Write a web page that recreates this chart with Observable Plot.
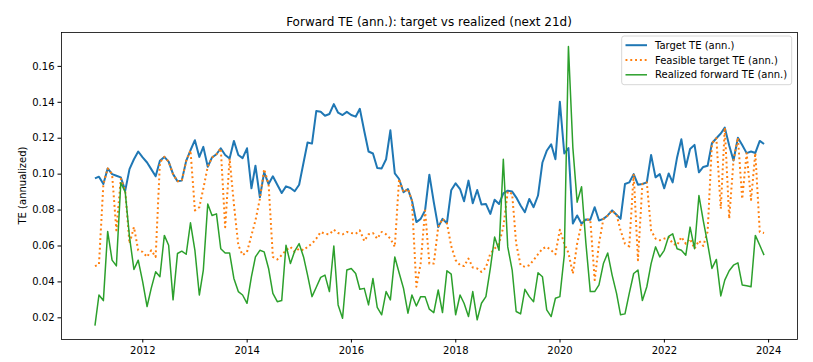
<!DOCTYPE html>
<html><head><meta charset="utf-8">
<script src="https://cdn.jsdelivr.net/npm/d3@7"></script>
<script src="https://cdn.jsdelivr.net/npm/@observablehq/plot@0.6"></script>
<style>body{margin:0;background:#fff;} svg{display:block}</style>
</head><body><div id="chart"></div>
<script>
// Monthly observations (month-end), first month:
const firstMonth = "2011-01";

const targetTE = [
0.0976,0.0986,0.0945,0.1032,0.1000,0.0991,0.0982,0.0908,0.1028,0.1083,
0.1126,0.1093,0.1065,0.1028,0.0988,0.1074,0.1096,0.1070,0.1000,0.0960,
0.0964,0.1074,0.1133,0.1189,0.1096,0.1152,0.1041,0.1093,0.1111,0.1144,
0.1107,0.1087,0.1185,0.1107,0.1089,0.1144,0.0921,0.1047,0.0871,0.1010,
0.0945,0.0988,0.0941,0.0895,0.0932,0.0923,0.0905,0.0941,0.1065,0.1176,
0.1170,0.1351,0.1347,0.1325,0.1335,0.1390,0.1342,0.1329,0.1347,0.1329,
0.1320,0.1364,0.1240,0.1126,0.1115,0.1034,0.1032,0.1083,0.1244,0.1004,
0.0973,0.0899,0.0917,0.0853,0.0733,0.0751,0.0798,0.0997,0.0844,0.0705,
0.0751,0.0727,0.0910,0.0949,0.0917,0.0849,0.0964,0.0838,0.0912,0.0831,
0.0834,0.0779,0.0857,0.0834,0.0893,0.0908,0.0903,0.0871,0.0825,0.0788,
0.0862,0.0816,0.0881,0.1065,0.1130,0.1166,0.1083,0.1403,0.1115,0.1145,
0.0725,0.0770,0.0724,0.0748,0.0746,0.0816,0.0742,0.0751,0.0770,0.0798,
0.0774,0.0751,0.0945,0.0954,0.1000,0.0941,0.0945,0.0954,0.1107,0.0982,
0.1000,0.0921,0.1004,0.0954,0.1093,0.1194,0.1040,0.1140,0.1163,0.1010,
0.1040,0.1047,0.1172,0.1200,0.1226,0.1259,0.1160,0.1076,0.1203,0.1162,
0.1117,0.1126,0.1118,0.1185,0.1168
];

const feasibleTE = [
0.0488,0.0497,0.0945,0.1032,0.1000,0.0687,0.0975,0.0908,0.0613,0.0705,
0.0576,0.0567,0.0539,0.0576,0.0539,0.1065,0.1096,0.1070,0.1000,0.0960,
0.0964,0.1074,0.1133,0.0798,0.0816,0.0920,0.1041,0.1093,0.1111,0.1144,
0.0705,0.1087,0.0834,0.0604,0.0549,0.0567,0.0659,0.0742,0.0862,0.1028,
0.0945,0.0539,0.0525,0.0549,0.0576,0.0595,0.0567,0.0585,0.0576,0.0595,
0.0613,0.0641,0.0678,0.0668,0.0665,0.0691,0.0672,0.0665,0.0678,0.0672,
0.0668,0.0687,0.0628,0.0665,0.0672,0.0641,0.0678,0.0665,0.0641,0.0595,
0.0973,0.0899,0.0917,0.0853,0.0373,0.0502,0.0798,0.0502,0.0502,0.0705,
0.0751,0.0727,0.0600,0.0521,0.0493,0.0488,0.0530,0.0480,0.0475,0.0456,
0.0480,0.0558,0.0585,0.0613,0.0705,0.0903,0.0890,0.0613,0.0493,0.0484,
0.0493,0.0521,0.0554,0.0585,0.0595,0.0576,0.0554,0.0691,0.0613,0.0562,
0.0446,0.0613,0.0724,0.0748,0.0746,0.0410,0.0613,0.0751,0.0770,0.0798,
0.0774,0.0687,0.0613,0.0598,0.1000,0.0521,0.0945,0.0954,0.0687,0.0641,
0.0632,0.0641,0.0650,0.0613,0.0604,0.0650,0.0613,0.0640,0.0585,0.0630,
0.0600,0.0680,0.1172,0.1200,0.0807,0.1259,0.0752,0.1076,0.1203,0.0862,
0.1117,0.0857,0.1118,0.0678,0.0672
];

const realizedTE = [
0.0157,0.0327,0.0296,0.0681,0.0521,0.0489,0.0952,0.0900,0.0650,0.0469,
0.0521,0.0401,0.0263,0.0364,0.0456,0.0429,0.0659,0.0604,0.0300,0.0558,
0.0571,0.0554,0.0729,0.0576,0.0327,0.0466,0.0834,0.0770,0.0779,0.0585,
0.0561,0.0561,0.0419,0.0346,0.0327,0.0281,0.0429,0.0539,0.0576,0.0567,
0.0475,0.0336,0.0290,0.0296,0.0604,0.0502,0.0572,0.0613,0.0539,0.0438,
0.0318,0.0370,0.0425,0.0438,0.0346,0.0600,0.0272,0.0198,0.0466,0.0475,
0.0447,0.0359,0.0364,0.0272,0.0419,0.0258,0.0217,0.0346,0.0300,0.0539,
0.0451,0.0364,0.0226,0.0327,0.0266,0.0318,0.0318,0.0248,0.0229,0.0355,
0.0229,0.0462,0.0443,0.0217,0.0327,0.0281,0.0207,0.0346,0.0189,0.0281,
0.0318,0.0475,0.0650,0.0576,0.1083,0.0595,0.0466,0.0235,0.0222,0.0359,
0.0318,0.0290,0.0451,0.0429,0.0244,0.0207,0.0309,0.0318,0.0549,0.1711,
0.1148,0.0844,0.0930,0.0618,0.0346,0.0346,0.0383,0.0502,0.0561,0.0438,
0.0336,0.0217,0.0222,0.0336,0.0447,0.0466,0.0296,0.0373,0.0502,0.0595,
0.0539,0.0576,0.0654,0.0668,0.0585,0.0576,0.0549,0.0705,0.0585,0.0881,
0.0742,0.0613,0.0475,0.0525,0.0322,0.0410,0.0462,0.0493,0.0506,0.0383,
0.0379,0.0373,0.0659,0.0604,0.0549
];

const yearTicks = [2012, 2014, 2016, 2018, 2020, 2022, 2024];
const yTicks = [0.02, 0.04, 0.06, 0.08, 0.10, 0.12, 0.14, 0.16];
const seriesNames = ["Target TE (ann.)", "Feasible target TE (ann.)", "Realized forward TE (ann.)"];
const seriesColors = ["#1f77b4", "#ff7f0e", "#2ca02c"];
const titleText = "Forward TE (ann.): target vs realized (next 21d)";
const yLabelText = "TE (annualized)";

const start = d3.utcParse("%Y-%m")(firstMonth);
const dates = targetTE.map((_, i) => d3.utcDay.offset(d3.utcMonth.offset(start, i + 1), -1));
const mk = (arr) => arr.map((v, i) => ({date: dates[i], value: v}));
const sTarget = mk(targetTE), sFeasible = mk(feasibleTE), sRealized = mk(realizedTE);

const padExt = ([lo, hi]) => [lo - 0.05 * (hi - lo), hi + 0.05 * (hi - lo)];
const xExt = padExt(d3.extent(dates, d => +d)).map(t => new Date(t));
const yExt = padExt(d3.extent([...targetTE, ...feasibleTE, ...realizedTE]));

const W = 813, H = 362, mL = 61, mR = 16, mT = 32, mB = 23;
const DOT = "1.9,2.9";

const chart = Plot.plot({
  width: W, height: H,
  marginLeft: mL, marginRight: mR, marginTop: mT, marginBottom: mB,
  style: {fontFamily: "'DejaVu Sans', sans-serif", fontSize: "10px", color: "black", background: "white"},
  x: {type: "utc", domain: xExt, ticks: yearTicks.map(y => new Date(Date.UTC(y, 0, 1))),
      tickFormat: d3.utcFormat("%Y"), tickSize: 3.5, tickPadding: 3.5, label: null},
  y: {domain: yExt, ticks: yTicks, tickFormat: d3.format(".2f"), tickSize: 3.5, tickPadding: 3.5, label: null},
  marks: [
    Plot.lineY(sTarget, {x: "date", y: "value", stroke: seriesColors[0], strokeWidth: 2, strokeLinecap: "butt"}),
    Plot.lineY(sFeasible, {x: "date", y: "value", stroke: seriesColors[1], strokeWidth: 2, strokeDasharray: DOT, strokeLinecap: "butt"}),
    Plot.lineY(sRealized, {x: "date", y: "value", stroke: seriesColors[2], strokeWidth: 1.5, strokeLinecap: "butt"}),
    Plot.frame({stroke: "black", strokeWidth: 0.8})
  ]
});
document.getElementById("chart").appendChild(chart);

const svg = d3.select(chart);
// title
svg.append("text").attr("x", (mL + W - mR) / 2).attr("y", 25.5)
  .attr("text-anchor", "middle").attr("font-size", 12).attr("fill", "black").text(titleText);
// y label
svg.append("text").attr("transform", `translate(22,${(mT + H - mB) / 2}) rotate(-90)`)
  .attr("text-anchor", "middle").attr("dominant-baseline", "central")
  .attr("font-size", 10).attr("fill", "black").text(yLabelText);
// legend
const lg = svg.append("g");
lg.append("rect").attr("x", 621.7).attr("y", 36).attr("width", 170).attr("height", 48.7)
  .attr("rx", 2.5).attr("fill", "white").attr("fill-opacity", 0.8).attr("stroke", "#cccccc").attr("stroke-width", 0.8);
const dashes = [null, DOT, null], widths = [2, 2, 1.5];
seriesNames.forEach((name, k) => {
  const yy = 45.2 + k * 14.8;
  lg.append("line").attr("x1", 625.5).attr("x2", 647).attr("y1", yy).attr("y2", yy)
    .attr("stroke", seriesColors[k]).attr("stroke-width", widths[k]).attr("stroke-dasharray", dashes[k]);
  lg.append("text").attr("x", 655).attr("y", yy).attr("dominant-baseline", "central")
    .attr("text-anchor", "start").attr("font-size", 10).attr("fill", "black").text(name);
});
</script>
</body></html>
